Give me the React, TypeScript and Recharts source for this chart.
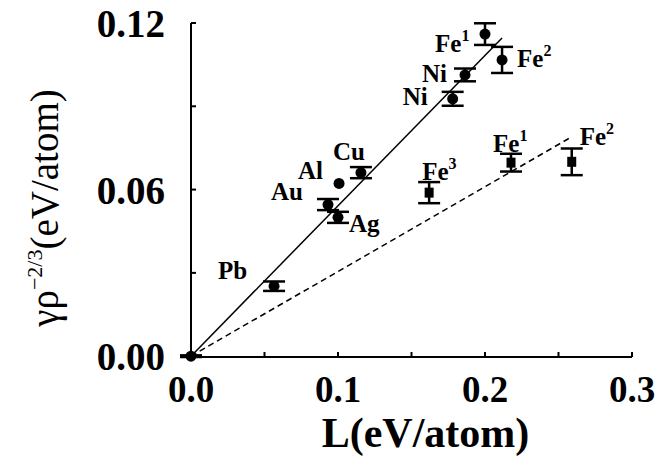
import React from "react";
import { ScatterChart, Scatter, XAxis, YAxis, ErrorBar } from "recharts";

// axis ticks (minor ticks carry no label)
const xTicks = [0, 0.05, 0.1, 0.15, 0.2, 0.25, 0.3];
const yTicks = [0, 0.03, 0.06, 0.09, 0.12];
const xMajor = [0, 0.1, 0.2, 0.3];
const yMajor = [0, 0.06, 0.12];

// filled circles
const circleL = [0, 0.0565, 0.0932, 0.1, 0.1007, 0.1156, 0.178, 0.1864, 0.2, 0.2116];
const circleG = [0, 0.0252, 0.0546, 0.05, 0.0622, 0.0661, 0.0927, 0.1013, 0.116, 0.1067];
const circleErr = [0.0003, 0.0017, 0.002, 0.002, 0, 0.002, 0.0025, 0.0023, 0.0039, 0.0047];
const circleNames = ["", "Pb", "Au", "Ag", "Al", "Cu", "Ni", "Ni", "Fe", "Fe"];
const circleSups = ["", "", "", "", "", "", "", "", "1", "2"];

// filled squares
const squareL = [0.162, 0.2177, 0.259];
const squareG = [0.0589, 0.0697, 0.07];
const squareErr = [0.0038, 0.0032, 0.0048];
const squareNames = ["Fe", "Fe", "Fe"];
const squareSups = ["3", "1", "2"];

// fitted lines
const solidFitL = [0, 0.2116];
const solidFitG = [0, 0.1146];
const dashFitL = [0, 0.259];
const dashFitG = [0, 0.079];

// label offsets from the marker (text start, baseline), px
const circleLabelPos = [[0, 0], [-56, -7], [-57, -5], [11, 15], [-41, -4], [-28, -13], [-50, 6], [-43, 7], [-50, 18], [15, 7]];
const squareLabelPos = [[-7, -13], [-18, -11], [8, -17]];

const FONT = '"Liberation Serif", "Times New Roman", serif';

const toRows = (xs: number[], ys: number[], errs?: number[], names?: string[], sups?: string[]) =>
  xs.map((x, i) => ({ x, y: ys[i], err: errs ? errs[i] : 0, name: names ? names[i] : "", sup: sups ? sups[i] : "", i }));

const circles = toRows(circleL, circleG, circleErr, circleNames, circleSups);
const squares = toRows(squareL, squareG, squareErr, squareNames, squareSups);
const solidFit = toRows(solidFitL, solidFitG);
const dashFit = toRows(dashFitL, dashFitG);

const PointLabel = ({ x, y, name, sup }: any) => {
  if (!name) return null;
  return (
    <text x={x} y={y} fontFamily={FONT} fontWeight="bold" fontSize={25} fill="#000">
      {name}
      {sup ? (
        <tspan fontSize={16} dy={-11}>
          {sup}
        </tspan>
      ) : null}
    </text>
  );
};

const CircleShape = (props: any) => {
  const { cx, cy, payload } = props;
  const [dx, dy] = circleLabelPos[payload.i];
  return (
    <g>
      <circle cx={cx} cy={cy} r={5.5} fill="#000" />
      <PointLabel x={cx + dx} y={cy + dy} name={payload.name} sup={payload.sup} />
    </g>
  );
};

const SquareShape = (props: any) => {
  const { cx, cy, payload } = props;
  const [dx, dy] = squareLabelPos[payload.i];
  return (
    <g>
      <rect x={cx - 4.5} y={cy - 5} width={9} height={10} fill="#000" />
      <PointLabel x={cx + dx} y={cy + dy} name={payload.name} sup={payload.sup} />
    </g>
  );
};

const NoShape = () => <g />;

const BottomTick = ({ x, y, payload }: any) => {
  const v = payload.value;
  const major = xMajor.some((m) => Math.abs(m - v) < 1e-9);
  return (
    <g>
      <line x1={x} x2={x} y1={y} y2={y - 5} stroke="#000" strokeWidth={2} />
      {major && (
        <text x={x} y={y + 45} textAnchor="middle" fontFamily={FONT} fontWeight="bold" fontSize={37} fill="#000">
          {v.toFixed(1)}
        </text>
      )}
    </g>
  );
};

const TopTick = ({ x, y }: any) => <line x1={x} x2={x} y1={y} y2={y + 5} stroke="#000" strokeWidth={2} />;

const LeftTick = ({ x, y, payload }: any) => {
  const v = payload.value;
  const major = yMajor.some((m) => Math.abs(m - v) < 1e-9);
  return (
    <g>
      <line x1={x} x2={x + 5} y1={y} y2={y} stroke="#000" strokeWidth={2} />
      {major && (
        <text x={x - 26} y={y + 14} textAnchor="end" fontFamily={FONT} fontWeight="bold" fontSize={39} fill="#000">
          {v.toFixed(2)}
        </text>
      )}
    </g>
  );
};

const RightTick = ({ x, y }: any) => <line x1={x} x2={x - 5} y1={y} y2={y} stroke="#000" strokeWidth={2} />;

const XTitle = ({ viewBox }: any) => {
  const cx = viewBox.x + viewBox.width / 2 + 14;
  return (
    <text x={cx} y={447} textAnchor="middle" fontFamily={FONT} fontWeight="bold" fontSize={42} fill="#000">
      L(eV/atom)
    </text>
  );
};

const YTitle = ({ viewBox }: any) => {
  const cy = viewBox.y + viewBox.height / 2 + 18;
  return (
    <text x={58} y={cy} transform={`rotate(-90 58 ${cy})`} textAnchor="middle" fontFamily={FONT} fontSize={39} fill="#000">
      γρ
      <tspan fontSize={22} dy={-16}>
        −2/3
      </tspan>
      <tspan dy={16}>(eV/atom)</tspan>
    </text>
  );
};

const axisLine = { stroke: "#000", strokeWidth: 2 };

export default function App() {
  return (
    <div style={{ position: "absolute", left: 0, top: 0, background: "#fff" }}>
      <ScatterChart width={670} height={470} margin={{ top: 23, right: 38, bottom: 0, left: 0 }}>
        <XAxis
          xAxisId="b"
          type="number"
          dataKey="x"
          domain={[0, 0.3]}
          ticks={xTicks}
          interval={0}
          height={113}
          tickSize={0}
          tickMargin={0}
          tickLine={false}
          axisLine={axisLine}
          tick={<BottomTick />}
          label={(p: any) => <XTitle {...p} />}
        />
        <XAxis
          xAxisId="t"
          orientation="top"
          type="number"
          dataKey="x"
          domain={[0, 0.3]}
          ticks={xTicks}
          interval={0}
          height={0}
          tickSize={0}
          tickMargin={0}
          tickLine={false}
          axisLine={axisLine}
          tick={<TopTick />}
        />
        <YAxis
          yAxisId="l"
          type="number"
          dataKey="y"
          domain={[0, 0.12]}
          ticks={yTicks}
          interval={0}
          width={191}
          tickSize={0}
          tickMargin={0}
          tickLine={false}
          axisLine={axisLine}
          tick={<LeftTick />}
          label={(p: any) => <YTitle {...p} />}
        />
        <YAxis
          yAxisId="r"
          orientation="right"
          type="number"
          dataKey="y"
          domain={[0, 0.12]}
          ticks={yTicks}
          interval={0}
          width={0}
          tickSize={0}
          tickMargin={0}
          tickLine={false}
          axisLine={axisLine}
          tick={<RightTick />}
        />
        <Scatter
          xAxisId="b"
          yAxisId="l"
          data={solidFit}
          line={{ stroke: "#000", strokeWidth: 1.5 }}
          shape={NoShape}
          isAnimationActive={false}
        />
        <Scatter
          xAxisId="b"
          yAxisId="l"
          data={dashFit}
          line={{ stroke: "#000", strokeWidth: 1.5, strokeDasharray: "6 4" }}
          shape={NoShape}
          isAnimationActive={false}
        />
        <Scatter xAxisId="b" yAxisId="l" data={circles} shape={CircleShape} isAnimationActive={false}>
          <ErrorBar dataKey="err" direction="y" width={11} stroke="#000" strokeWidth={2.5} isAnimationActive={false} />
        </Scatter>
        <Scatter xAxisId="b" yAxisId="l" data={squares} shape={SquareShape} isAnimationActive={false}>
          <ErrorBar dataKey="err" direction="y" width={11} stroke="#000" strokeWidth={2.5} isAnimationActive={false} />
        </Scatter>
      </ScatterChart>
    </div>
  );
}
